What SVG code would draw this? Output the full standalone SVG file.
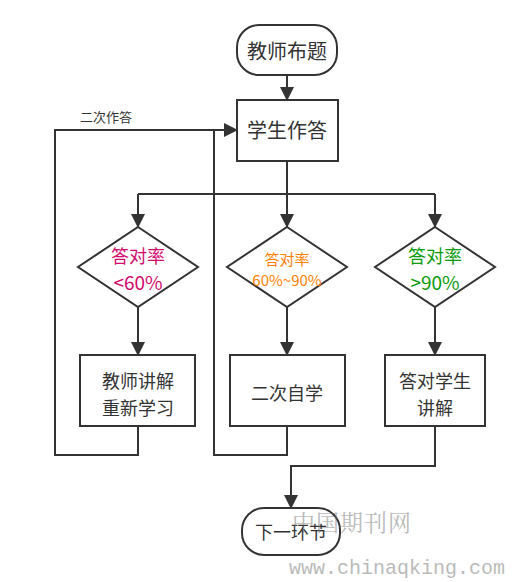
<svg xmlns="http://www.w3.org/2000/svg" width="520" height="582" viewBox="0 0 520 582">
<style>
.s{fill:#fff;stroke:#333;stroke-width:2}
.t{font-family:"Noto Sans CJK SC","Liberation Sans",sans-serif;fill:#333;text-anchor:middle}
.c{fill:none;stroke:#333;stroke-width:2}
</style>
<defs>
<marker id="b" markerWidth="14" markerHeight="14" refX="13" refY="7" orient="auto" markerUnits="userSpaceOnUse">
<path d="M0,0 L14,7 L0,14 Z" fill="#333"/>
</marker>
</defs>
<g id="connectors">
<path class="c" d="M287,75 V100" marker-end="url(#b)"/>
<path class="c" d="M287,161 V194 M138,194 H435"/>
<path class="c" d="M138,194 V227" marker-end="url(#b)"/>
<path class="c" d="M287,194 V227" marker-end="url(#b)"/>
<path class="c" d="M435,194 V227" marker-end="url(#b)"/>
<path class="c" d="M138,307 V355" marker-end="url(#b)"/>
<path class="c" d="M287,307 V355" marker-end="url(#b)"/>
<path class="c" d="M435,307 V355" marker-end="url(#b)"/>
<path class="c" d="M138,426 V455 H55 V130 H237" marker-end="url(#b)"/>
<path class="c" d="M287,426 V455 H214 V130"/>
<path class="c" d="M435,426 V466 H291 V508" marker-end="url(#b)"/>
<text class="t" x="106" y="122" font-size="13">二次作答</text>
</g>
<g id="start">
<rect class="s" x="237" y="25" width="100" height="50" rx="22"/>
<text class="t" x="287" y="59" font-size="20">教师布题</text>
</g>
<g id="answer">
<rect class="s" x="237" y="100" width="101" height="61"/>
<text class="t" x="287" y="138" font-size="20">学生作答</text>
</g>
<g id="d1">
<polygon class="s" points="138,227 198,267 138,307 78,267"/>
<text class="t" x="138" y="263" font-size="18" style="fill:#d10a6e">答对率</text>
<text class="t" x="138" y="290" font-size="19" style="fill:#d10a6e">&lt;60%</text>
</g>
<g id="d2">
<polygon class="s" points="287,227 347,267 287,307 227,267"/>
<text class="t" x="287" y="265" font-size="15" style="fill:#ff8000">答对率</text>
<text class="t" x="287" y="286" font-size="15" style="fill:#ff8000">60%~90%</text>
</g>
<g id="d3">
<polygon class="s" points="435,227 495,267 435,307 375,267"/>
<text class="t" x="435" y="263" font-size="18" style="fill:#0a9a0a">答对率</text>
<text class="t" x="435" y="290" font-size="19" style="fill:#0a9a0a">&gt;90%</text>
</g>
<g id="b1">
<rect class="s" x="80" y="355" width="115" height="71"/>
<text class="t" x="138" y="388" font-size="18">教师讲解</text>
<text class="t" x="138" y="415" font-size="18">重新学习</text>
</g>
<g id="b2">
<rect class="s" x="230" y="355" width="115" height="71"/>
<text class="t" x="287" y="400" font-size="18">二次自学</text>
</g>
<g id="b3">
<rect class="s" x="385" y="355" width="100" height="71"/>
<text class="t" x="435" y="388" font-size="18">答对学生</text>
<text class="t" x="435" y="415" font-size="18">讲解</text>
</g>
<g id="end">
<rect class="s" x="242" y="508" width="98" height="47" rx="22"/>
<text class="t" x="291" y="539" font-size="18">下一环节</text>
</g>
<g id="watermark" opacity="0.5">
<text x="292" y="531" font-size="23" font-family="'Noto Serif CJK SC','Noto Sans CJK SC',serif" fill="#777" letter-spacing="1">中国期刊网</text>
<text x="289" y="574" font-size="20" font-family="'Liberation Mono',monospace" fill="#777">www.chinaqking.com</text>
</g>
</svg>
